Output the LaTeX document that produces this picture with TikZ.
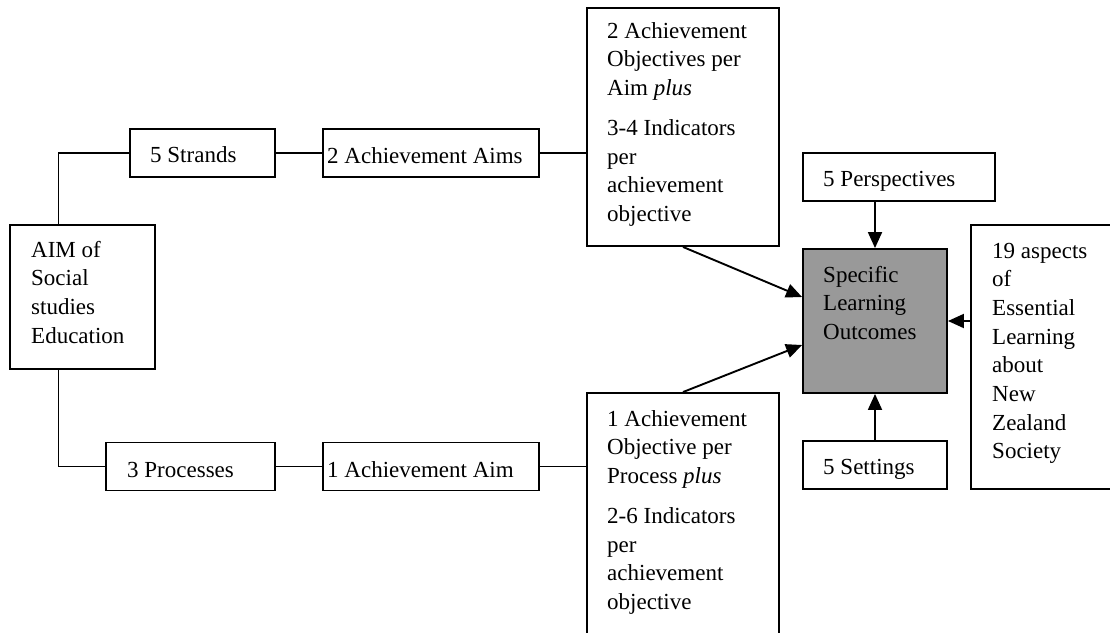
\documentclass[tikz,border=0pt]{standalone}
\usepackage{fontspec}
\setmainfont{Liberation Serif}
\usetikzlibrary{arrows.meta}

\tikzset{
  box/.style={draw, line width=1.9pt, inner sep=0pt},
  shaded/.style={box, fill={rgb,255:red,153;green,153;blue,153}},
  lbl/.style={anchor=base west, inner sep=0pt, font=\fontsize{23}{28.7}\selectfont},
  link/.style={line width=1.9pt},
  arr/.style={link, -{Triangle[length=16pt,width=14pt]}}
}

\begin{document}
\begin{tikzpicture}[x=1pt,y=-1pt]
\useasboundingbox (0,0) rectangle (1110,632);
\clip (0,0) rectangle (1110,632);

% boxes
\node[box, minimum width=145, minimum height=144] (aim) at (82.5,297) {};
\node[box, minimum width=145, minimum height=48] (strands) at (202.5,153) {};
\node[box, minimum width=216, minimum height=48] (aims2) at (431,153) {};
\node[box, minimum width=192, minimum height=238] (objtop) at (683,127) {};
\node[box, minimum width=169, minimum height=48] (proc) at (190.5,466.5) {};
\node[box, minimum width=216, minimum height=48] (aim1) at (431,466.5) {};
\node[box, minimum width=192, minimum height=247] (objbot) at (683,516.5) {};
\node[box, minimum width=192, minimum height=48] (persp) at (899,177) {};
\node[shaded, minimum width=144, minimum height=144] (slo) at (875,321) {};
\node[box, minimum width=144, minimum height=48] (settings) at (875,465) {};
\node[box, minimum width=149, minimum height=264] (aspects) at (1045.5,357) {};

% texts
\node[lbl] (aimT) at (31,257) {\vtop{\hbox{AIM of}\hbox{Social}\hbox{studies}\hbox{Education}}};
\node[lbl] (strandsT) at (150,162) {5 Strands};
\node[lbl] (aims2T) at (327,163) {2 Achievement Aims};
\node[lbl] (objtopT) at (607,38) {\vtop{\hbox{2 Achievement}\hbox{Objectives per}\hbox{Aim \textit{plus}}\vskip11.3pt
  \hbox{3-4 Indicators}\hbox{per}\hbox{achievement}\hbox{objective}}};
\node[lbl] (procT) at (127,477) {3 Processes};
\node[lbl] (aim1T) at (327,477) {1 Achievement Aim};
\node[lbl] (objbotT) at (607,426) {\vtop{\hbox{1 Achievement}\hbox{Objective per}\hbox{Process \textit{plus}}\vskip11.3pt
  \hbox{2-6 Indicators}\hbox{per}\hbox{achievement}\hbox{objective}}};
\node[lbl] (perspT) at (823,186) {5 Perspectives};
\node[lbl] (sloT) at (823,282) {\vtop{\hbox{Specific}\hbox{Learning}\hbox{Outcomes}}};
\node[lbl] (settingsT) at (823,474) {5 Settings};
\node[lbl] (aspectsT) at (992,258) {\vtop{\hbox{19 aspects}\hbox{of}\hbox{Essential}\hbox{Learning}\hbox{about}\hbox{New}\hbox{Zealand}\hbox{Society}}};

% plain connectors
\draw[link] ([xshift=-24pt]aim.north) |- (strands.west);
\draw[link] (strands.east) -- (aims2.west);
\draw[link] (aims2.east) -- (aims2.east -| objtop.west);
\draw[link] ([xshift=-24pt]aim.south) |- (proc.west);
\draw[link] (proc.east) -- (aim1.west);
\draw[link] (aim1.east) -- (aim1.east -| objbot.west);

% arrows into the outcomes box
\draw[arr] (persp.south -| slo.north) -- (slo.north);
\draw[arr] (settings.north) -- (slo.south);
\draw[arr] (aspects.west |- slo.east) -- (slo.east);
\draw[arr] (objtop.south) -- ([yshift=24pt]slo.west);
\draw[arr] (objbot.north) -- ([yshift=-24pt]slo.west);
\end{tikzpicture}
\end{document}
